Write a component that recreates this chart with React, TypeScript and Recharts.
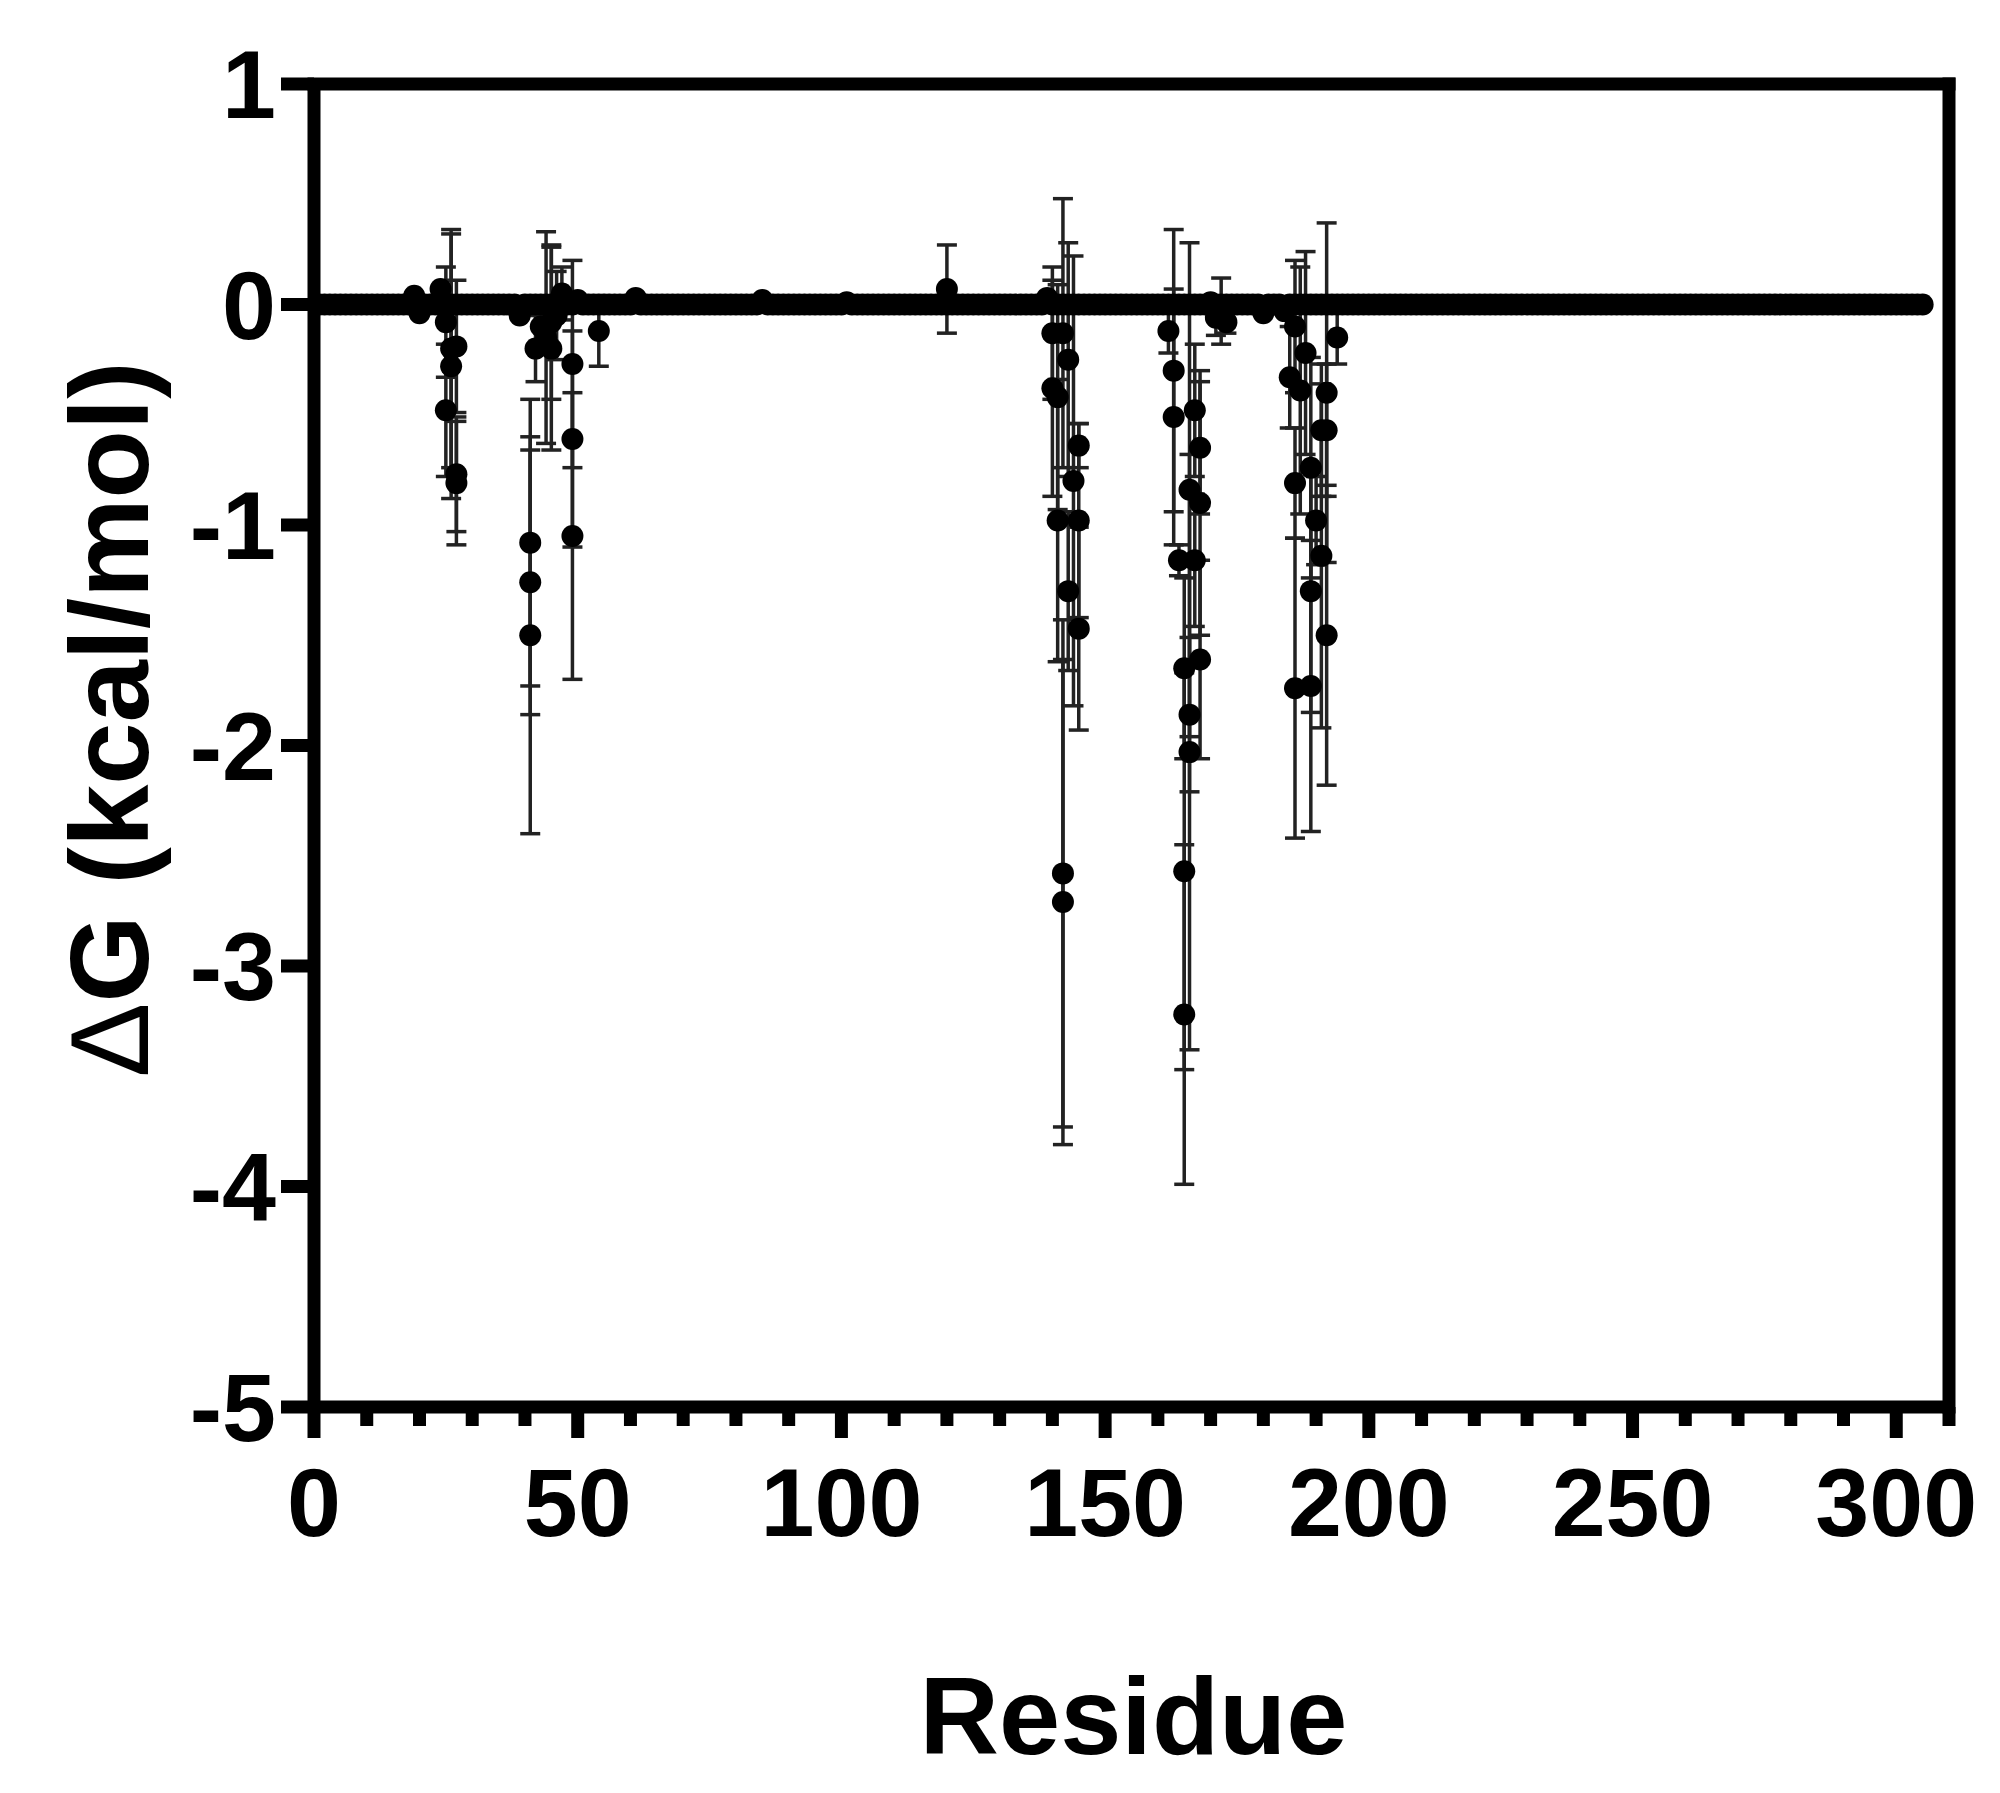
import React from 'react';
import { ScatterChart, Scatter, XAxis, YAxis, ErrorBar, ReferenceLine } from 'recharts';

const FONT = '"Liberation Sans", Arial, Helvetica, sans-serif';

// ΔG for every residue 1..305 (rows of 20 residues)
const baselineDG = [
  0, 0, 0, 0, 0, 0, 0, 0, 0, 0, 0, 0, 0, 0, 0, 0, 0, 0, 0.04, -0.04,
  0, 0, 0, 0.07, 0, 0, 0, 0, 0, 0, 0, 0, 0, 0, 0, 0, 0, 0, -0.05, 0,
  0, 0, 0, 0, 0, 0, 0, 0, 0, 0.02, 0, 0, 0, 0, 0, 0, 0, 0, 0, 0,
  0.03, 0, 0, 0, 0, 0, 0, 0, 0, 0, 0, 0, 0, 0, 0, 0, 0, 0, 0, 0,
  0, 0, 0, 0, 0.02, 0, 0, 0, 0, 0, 0, 0, 0, 0, 0, 0, 0, 0, 0, 0,
  0.01, 0, 0, 0, 0, 0, 0, 0, 0, 0, 0, 0, 0, 0, 0, 0, 0, 0, 0, 0,
  0, 0, 0, 0, 0, 0, 0, 0, 0, 0, 0, 0, 0, 0, 0, 0, 0, 0, 0.03, 0,
  0, 0, 0, 0, 0, 0, 0, 0, 0, 0, 0, 0, 0, 0, 0, 0, 0, 0, 0, 0,
  0, 0, 0, 0, 0, 0, 0, 0, 0, 0.01, 0, 0, 0, 0, 0, 0, 0, 0, 0, -0.04,
  0, 0, 0, -0.03, 0, 0, 0, 0, 0, 0, 0, 0, 0, 0, 0, 0, 0, 0, 0, 0,
  0, 0, 0, 0, 0, 0, 0, 0, 0, 0, 0, 0, 0, 0, 0, 0, 0, 0, 0, 0,
  0, 0, 0, 0, 0, 0, 0, 0, 0, 0, 0, 0, 0, 0, 0, 0, 0, 0, 0, 0,
  0, 0, 0, 0, 0, 0, 0, 0, 0, 0, 0, 0, 0, 0, 0, 0, 0, 0, 0, 0,
  0, 0, 0, 0, 0, 0, 0, 0, 0, 0, 0, 0, 0, 0, 0, 0, 0, 0, 0, 0,
  0, 0, 0, 0, 0, 0, 0, 0, 0, 0, 0, 0, 0, 0, 0, 0, 0, 0, 0, 0,
  0, 0, 0, 0, 0,
];

// residues with a clear effect (several points per residue), with SD
const hotResidue = [
  25, 25, 26, 26, 27, 27, 27,
  41, 41, 41, 42, 43, 44, 45, 45, 46, 47, 49, 49, 49, 54,
  120,
  140, 140, 141, 141, 142, 142, 142, 143, 143, 144, 145, 145, 145,
  162, 163, 163, 164, 165, 165, 165, 166, 166, 166, 167, 167, 168, 168, 168, 171, 172, 173,
  185, 186, 186, 186, 187, 188, 189, 189, 189, 190, 191, 191, 192, 192, 192, 194,
];
const hotDG = [
  -0.08, -0.48, -0.2, -0.28, -0.19, -0.77, -0.81,
  -1.08, -1.26, -1.5, -0.2, -0.1, -0.15, -0.08, -0.2, -0.05, 0.05, -0.27, -0.61, -1.05, -0.12,
  0.07,
  -0.13, -0.38, -0.42, -0.98, -2.58, -2.71, -0.13, -0.25, -1.3, -0.8, -0.64, -0.98, -1.47,
  -0.12, -0.3, -0.51, -1.16, -1.65, -2.57, -3.22, -1.86, -2.03, -0.84, -1.16, -0.48, -0.65, -0.9, -1.61, -0.06, -0.03, -0.08,
  -0.33, -0.1, -0.81, -1.74, -0.39, -0.22, -0.74, -1.3, -1.73, -0.98, -1.14, -0.57, -0.4, -0.57, -1.5, -0.15,
];
const hotErr = [
  0.25, 0.3, 0.54, 0.6, 0.3, 0.26, 0.28,
  0.65, 0.6, 0.9, 0.15, 0.1, 0.48, 0.35, 0.46, 0.2, 0.12, 0.47, 0.49, 0.65, 0.16,
  0.2,
  0.3, 0.49, 0.51, 0.64, 1.15, 1.1, 0.61, 0.53, 0.36, 1.02, 0.1, 0.44, 0.46,
  0.1, 0.64, 0.58, 0.07, 0.41, 0.9, 0.77, 0.35, 1.35, 1.12, 0.3, 0.3, 0.3, 0.6, 0.45, 0.08, 0.15, 0.05,
  0.23, 0.3, 0.25, 0.68, 0.56, 0.46, 0.5, 0.55, 0.66, 0.2, 0.78, 0.3, 0.77, 0.3, 0.68, 0.12,
];

const xTicks = [0, 10, 20, 30, 40, 50, 60, 70, 80, 90, 100, 110, 120, 130, 140, 150, 160, 170, 180, 190, 200, 210, 220, 230, 240, 250, 260, 270, 280, 290, 300, 310];
const xLabelTicks = [0, 50, 100, 150, 200, 250, 300];
const yTicks = [-5, -4, -3, -2, -1, 0, 1];

const baseData = baselineDG.map((dg, i) => ({ residue: i + 1, dg }));
const hotData = hotResidue.map((residue, i) => ({ residue, dg: hotDG[i], err: hotErr[i] }));

const Dot = (p: any) => <circle cx={p.cx} cy={p.cy} r={11} fill="#000" />;

const XTick = ({ x, y, payload }: any) => {
  const major = xLabelTicks.includes(payload.value);
  return (
    <g>
      <line x1={x} y1={y} x2={x} y2={y + (major ? 31 : 19)} stroke="#000" strokeWidth={13} />
      {major && (
        <text x={x} y={y + 60} dy="0.71em" textAnchor="middle" fill="#000"
          fontSize={97} fontWeight={700} fontFamily={FONT}>
          {payload.value}
        </text>
      )}
    </g>
  );
};

const XTitle = (props: any) => {
  const vb = props.viewBox || { x: 306, y: 1399, width: 1634, height: 378 };
  return (
    <text x={vb.x + vb.width / 2 + 2} y={vb.y + vb.height - 31} textAnchor="middle" fill="#000"
      fontSize={110} fontWeight={700} fontFamily={FONT}>
      Residue
    </text>
  );
};

const YTitle = (props: any) => {
  const vb = props.viewBox || { x: 0, y: 76, width: 306, height: 1323 };
  const cx = vb.x + 140;
  const cy = vb.y + vb.height / 2 - 26;
  return (
    <text x={cx} y={cy} transform={`rotate(-90 ${cx} ${cy})`} textAnchor="middle" fill="#000"
      fontSize={112} fontWeight={700} fontFamily={FONT}>
      <tspan fontWeight={400}>Δ</tspan>G (kcal/mol)
    </text>
  );
};

export default function App() {
  return (
    <div style={{ width: 1984, height: 1777, background: '#fff' }}>
      <ScatterChart width={1984} height={1777} margin={{ top: 76, right: 43, bottom: 0, left: 0 }}>
        <XAxis type="number" dataKey="residue" domain={[0, 310]} ticks={xTicks} interval={0}
          height={378} axisLine={{ stroke: '#000', strokeWidth: 13 }} tickLine={false}
          tickSize={0} tickMargin={0} tick={<XTick />} label={XTitle} allowDataOverflow />
        <YAxis type="number" dataKey="dg" domain={[-5, 1]} ticks={yTicks} interval={0} width={306}
          axisLine={{ stroke: '#000', strokeWidth: 13 }} tickLine={{ stroke: '#000', strokeWidth: 13 }}
          tickSize={33} tickMargin={5}
          tick={{ fill: '#000', fontSize: 97, fontWeight: 700, fontFamily: FONT }}
          label={YTitle} allowDataOverflow />
        <ReferenceLine y={1} stroke="#000" strokeWidth={13} strokeLinecap="square" />
        <ReferenceLine x={310} stroke="#000" strokeWidth={13} strokeLinecap="square" />
        <Scatter data={baseData} fill="#000" shape={Dot} isAnimationActive={false} />
        <Scatter data={hotData} fill="#000" shape={Dot} isAnimationActive={false}>
          <ErrorBar dataKey="err" direction="y" width={10} stroke="#222" strokeWidth={3.5}
            isAnimationActive={false} />
        </Scatter>
      </ScatterChart>
    </div>
  );
}
